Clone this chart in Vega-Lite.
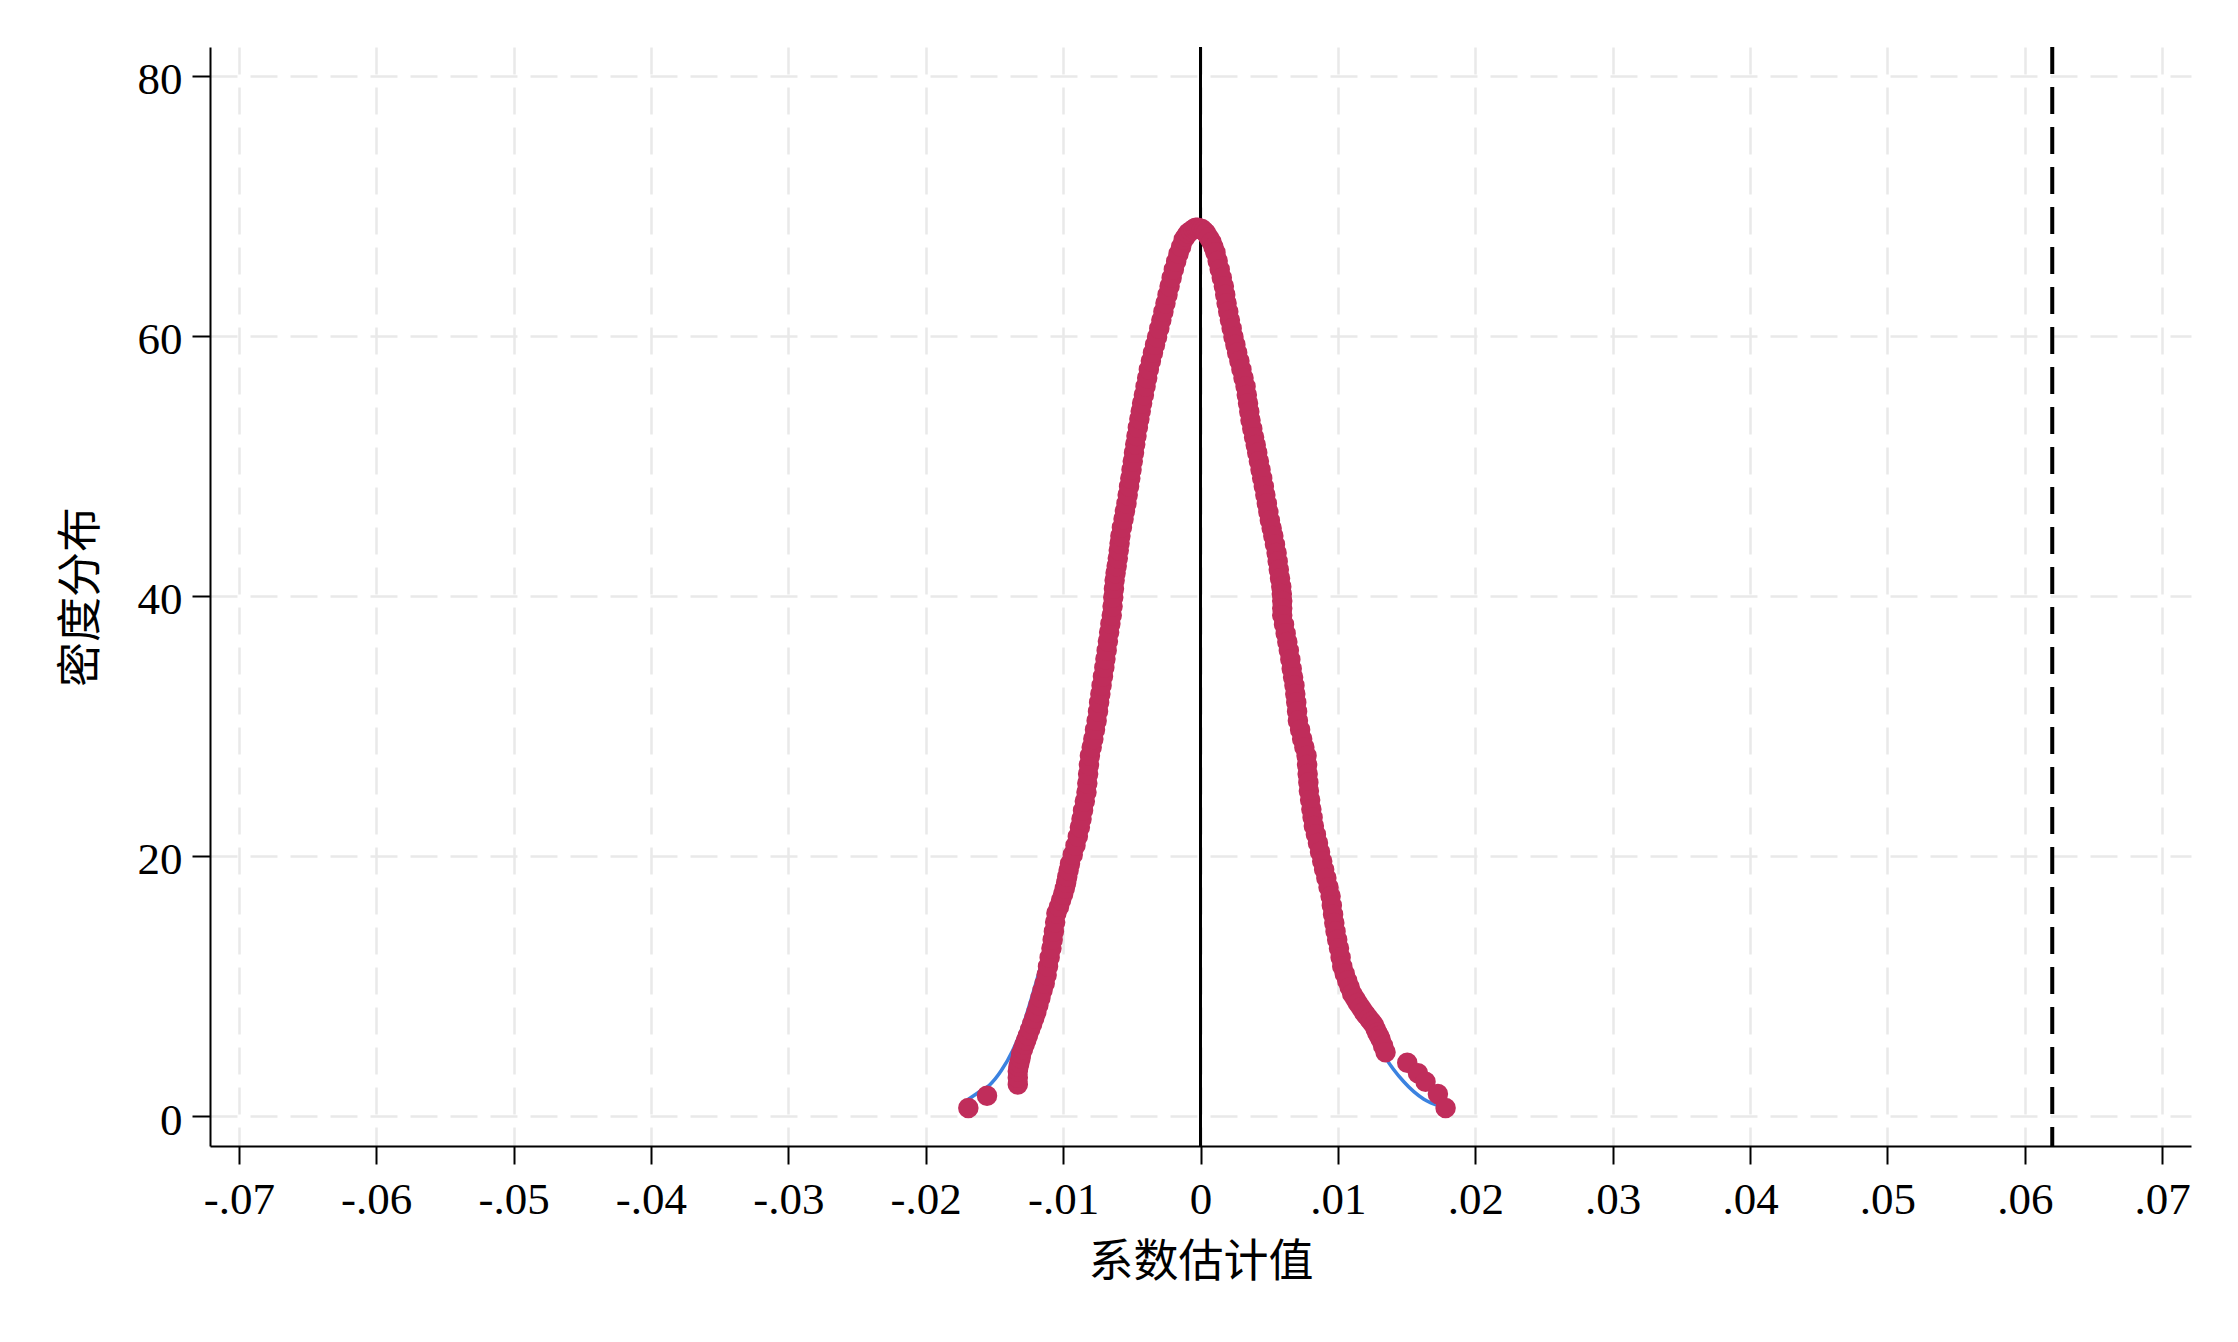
{
  "$schema": "https://vega.github.io/schema/vega-lite/v6.json",
  "width": 1981,
  "height": 1099,
  "autosize": "none",
  "padding": {"left": 210, "top": 47, "right": 47, "bottom": 196},
  "background": "white",
  "config": {
    "view": {"stroke": null},
    "font": "Liberation Serif",
    "axis": {
      "domainColor": "black", "domainWidth": 2,
      "tickColor": "black", "tickWidth": 2, "tickSize": 18,
      "labelFont": "Liberation Serif", "labelFontSize": 45, "labelColor": "black",
      "titleFont": "Noto Sans CJK SC", "titleFontSize": 45, "titleFontWeight": "normal", "titleColor": "black",
      "grid": true, "gridColor": "#e9e9e9", "gridWidth": 2.5, "gridDash": [27, 13]
    }
  },
  "datasets": {
    "pts": [
      {"b":-0.0169,"d":0.62},{"b":-0.01554,"d":1.56},{"b":-0.0133,"d":2.43},{"b":-0.0133,"d":2.95},{"b":-0.0133,"d":3.45},
      {"b":-0.01325,"d":3.8},{"b":-0.01318,"d":4.1},{"b":-0.0131,"d":4.45},{"b":-0.01305,"d":4.8},{"b":-0.01292,"d":5.15},
      {"b":-0.0128,"d":5.5},{"b":-0.01268,"d":5.85},{"b":-0.01256,"d":6.2},{"b":-0.0124,"d":6.65},{"b":-0.01225,"d":7.1},
      {"b":-0.0121,"d":7.55},{"b":-0.01195,"d":8.0},{"b":-0.0118,"d":8.55},{"b":-0.01165,"d":9.1},{"b":-0.0115,"d":9.65},
      {"b":-0.01134,"d":10.2},{"b":-0.0112,"d":10.85},{"b":-0.0111,"d":11.5},{"b":-0.01098,"d":12.2},{"b":-0.01085,"d":12.9},
      {"b":-0.01076,"d":13.55},{"b":-0.01067,"d":14.2},{"b":-0.01058,"d":14.9},{"b":-0.01049,"d":15.6},{"b":-0.0103,"d":16.1},
      {"b":-0.01015,"d":16.6},{"b":-0.01,"d":17.05},{"b":-0.00988,"d":17.5},{"b":-0.00978,"d":17.95},{"b":-0.0097,"d":18.4},
      {"b":-0.0096,"d":18.9},{"b":-0.0095,"d":19.4},{"b":-0.0093,"d":20.1},{"b":-0.0091,"d":20.8},{"b":-0.00893,"d":21.5},
      {"b":-0.00878,"d":22.2},{"b":-0.00866,"d":22.85},{"b":-0.00855,"d":23.5},{"b":-0.00842,"d":24.2},{"b":-0.0083,"d":24.9},
      {"b":-0.00824,"d":25.6},{"b":-0.00818,"d":26.3},{"b":-0.00812,"d":27.0},{"b":-0.00805,"d":27.7},{"b":-0.00792,"d":28.35},
      {"b":-0.0078,"d":29.0},{"b":-0.00768,"d":29.7},{"b":-0.00756,"d":30.4},{"b":-0.00746,"d":31.1},{"b":-0.00738,"d":31.8},
      {"b":-0.00729,"d":32.45},{"b":-0.0072,"d":33.1},{"b":-0.0071,"d":33.8},{"b":-0.007,"d":34.5},{"b":-0.00692,"d":35.15},
      {"b":-0.00683,"d":35.8},{"b":-0.00674,"d":36.5},{"b":-0.00665,"d":37.2},{"b":-0.00656,"d":37.85},{"b":-0.00646,"d":38.5},
      {"b":-0.0064,"d":39.2},{"b":-0.00635,"d":39.9},{"b":-0.0063,"d":40.55},{"b":-0.00625,"d":41.2},{"b":-0.00618,"d":41.75},
      {"b":-0.0061,"d":42.3},{"b":-0.00602,"d":42.9},{"b":-0.00595,"d":43.5},{"b":-0.00589,"d":44.05},{"b":-0.00583,"d":44.6},
      {"b":-0.00572,"d":45.25},{"b":-0.0056,"d":45.9},{"b":-0.0055,"d":46.5},{"b":-0.00539,"d":47.1},{"b":-0.0053,"d":47.75},
      {"b":-0.0052,"d":48.4},{"b":-0.00511,"d":49.05},{"b":-0.00502,"d":49.7},{"b":-0.00493,"d":50.35},{"b":-0.00484,"d":51.0},
      {"b":-0.00475,"d":51.65},{"b":-0.00466,"d":52.3},{"b":-0.00456,"d":52.95},{"b":-0.00445,"d":53.6},{"b":-0.00435,"d":54.2},
      {"b":-0.00425,"d":54.8},{"b":-0.00412,"d":55.45},{"b":-0.004,"d":56.1},{"b":-0.00388,"d":56.75},{"b":-0.00376,"d":57.4},
      {"b":-0.00361,"d":58.05},{"b":-0.00346,"d":58.7},{"b":-0.00331,"d":59.3},{"b":-0.00316,"d":59.9},{"b":-0.003,"d":60.55},
      {"b":-0.00285,"d":61.2},{"b":-0.0027,"d":61.85},{"b":-0.00255,"d":62.5},{"b":-0.0024,"d":63.15},{"b":-0.00225,"d":63.8},
      {"b":-0.0021,"d":64.45},{"b":-0.00194,"d":65.1},{"b":-0.00177,"d":65.7},{"b":-0.0016,"d":66.3},{"b":-0.00141,"d":66.85},
      {"b":-0.00122,"d":67.4},{"b":-0.00106,"d":67.65},{"b":-0.0009,"d":67.9},{"b":-0.0007,"d":68.05},{"b":-0.0005,"d":68.2},
      {"b":-0.00035,"d":68.3},{"b":-0.0002,"d":68.3},{"b":-0.00005,"d":68.25},{"b":0.0001,"d":68.2},{"b":0.00025,"d":68.05},
      {"b":0.0004,"d":67.9},{"b":0.0006,"d":67.55},{"b":0.0008,"d":67.2},{"b":0.00095,"d":66.8},{"b":0.00109,"d":66.4},
      {"b":0.00125,"d":65.75},{"b":0.0014,"d":65.1},{"b":0.00155,"d":64.45},{"b":0.0017,"d":63.8},{"b":0.0018,"d":63.15},
      {"b":0.0019,"d":62.5},{"b":0.00202,"d":61.85},{"b":0.00214,"d":61.2},{"b":0.00227,"d":60.55},{"b":0.0024,"d":59.9},
      {"b":0.00254,"d":59.3},{"b":0.00267,"d":58.7},{"b":0.00283,"d":58.05},{"b":0.00298,"d":57.4},{"b":0.00313,"d":56.75},
      {"b":0.00328,"d":56.1},{"b":0.00337,"d":55.45},{"b":0.00346,"d":54.8},{"b":0.00355,"d":54.15},{"b":0.00364,"d":53.5},
      {"b":0.00377,"d":52.85},{"b":0.0039,"d":52.2},{"b":0.00402,"d":51.6},{"b":0.00413,"d":51.0},{"b":0.00425,"d":50.35},
      {"b":0.00437,"d":49.7},{"b":0.00449,"d":49.05},{"b":0.00461,"d":48.4},{"b":0.00472,"d":47.75},{"b":0.00483,"d":47.1},
      {"b":0.00494,"d":46.45},{"b":0.00505,"d":45.8},{"b":0.00518,"d":45.2},{"b":0.0053,"d":44.6},{"b":0.00542,"d":43.95},
      {"b":0.00554,"d":43.3},{"b":0.00562,"d":42.65},{"b":0.0057,"d":42.0},{"b":0.00579,"d":41.35},{"b":0.00588,"d":40.7},
      {"b":0.00592,"d":40.15},{"b":0.00595,"d":39.6},{"b":0.00595,"d":39.05},{"b":0.00595,"d":38.5},{"b":0.00608,"d":37.8},
      {"b":0.0062,"d":37.1},{"b":0.00632,"d":36.45},{"b":0.00643,"d":35.8},{"b":0.00654,"d":35.1},{"b":0.00664,"d":34.4},
      {"b":0.00674,"d":33.75},{"b":0.00684,"d":33.1},{"b":0.0069,"d":32.45},{"b":0.00697,"d":31.8},{"b":0.00703,"d":31.1},
      {"b":0.00709,"d":30.4},{"b":0.00725,"d":29.7},{"b":0.0074,"d":29.0},{"b":0.00756,"d":28.35},{"b":0.00772,"d":27.7},
      {"b":0.00776,"d":27.0},{"b":0.0078,"d":26.3},{"b":0.00785,"d":25.65},{"b":0.00789,"d":25.0},{"b":0.00798,"d":24.3},
      {"b":0.00807,"d":23.6},{"b":0.00816,"d":22.95},{"b":0.00825,"d":22.3},{"b":0.0084,"d":21.65},{"b":0.00855,"d":21.0},
      {"b":0.0087,"d":20.3},{"b":0.00886,"d":19.6},{"b":0.009,"d":18.95},{"b":0.00916,"d":18.3},{"b":0.00932,"d":17.6},
      {"b":0.00947,"d":16.9},{"b":0.00956,"d":16.2},{"b":0.00965,"d":15.5},{"b":0.00974,"d":14.85},{"b":0.00983,"d":14.2},
      {"b":0.00995,"d":13.55},{"b":0.01008,"d":12.9},{"b":0.0102,"d":12.2},{"b":0.01032,"d":11.5},{"b":0.0105,"d":10.95},
      {"b":0.01068,"d":10.4},{"b":0.01086,"d":9.9},{"b":0.01104,"d":9.4},{"b":0.01125,"d":9.05},{"b":0.01145,"d":8.7},
      {"b":0.01167,"d":8.35},{"b":0.01189,"d":8.0},{"b":0.01207,"d":7.75},{"b":0.01225,"d":7.5},{"b":0.01244,"d":7.25},
      {"b":0.01262,"d":7.0},{"b":0.01275,"d":6.7},{"b":0.01287,"d":6.4},{"b":0.013,"d":6.15},{"b":0.01311,"d":5.9},
      {"b":0.01329,"d":5.4},{"b":0.01347,"d":4.9},{"b":0.01505,"d":4.1},{"b":0.01583,"d":3.3},{"b":0.01638,"d":2.64},
      {"b":0.01728,"d":1.7},{"b":0.01784,"d":0.62}
    ],
    "kd": [
      {"b":-0.0169,"d":1.3},{"b":-0.0162,"d":1.8},{"b":-0.01537,"d":2.37},{"b":-0.0145,"d":3.5},{"b":-0.01366,"d":5.07},
      {"b":-0.013,"d":6.7},{"b":-0.01232,"d":9.0},{"b":-0.0115,"d":12.0},{"b":-0.0105,"d":16.0},{"b":-0.0095,"d":20.5},
      {"b":-0.0085,"d":25.5},{"b":-0.0075,"d":31.0},{"b":-0.0065,"d":37.5},{"b":-0.0055,"d":45.5},{"b":-0.0045,"d":53.5},
      {"b":-0.0035,"d":59.0},{"b":-0.0025,"d":63.3},{"b":-0.0015,"d":66.5},{"b":-0.0005,"d":68.0},{"b":0.0,"d":68.2},
      {"b":0.0005,"d":67.8},{"b":0.0015,"d":65.0},{"b":0.0025,"d":60.0},{"b":0.0035,"d":54.5},{"b":0.0045,"d":49.0},
      {"b":0.0055,"d":43.0},{"b":0.0065,"d":36.0},{"b":0.0075,"d":28.5},{"b":0.0085,"d":21.0},{"b":0.0095,"d":16.0},
      {"b":0.0105,"d":11.5},{"b":0.0112,"d":10.0},{"b":0.0125,"d":6.5},{"b":0.01347,"d":4.5},{"b":0.0148,"d":2.64},
      {"b":0.01626,"d":1.3},{"b":0.01748,"d":0.75},{"b":0.0178,"d":0.65}
    ]
  },
  "encoding": {
    "x": {
      "field": "b", "type": "quantitative",
      "scale": {"domain": [-0.0721, 0.0721], "nice": false, "zero": false},
      "axis": {
        "values": [-0.07,-0.06,-0.05,-0.04,-0.03,-0.02,-0.01,0,0.01,0.02,0.03,0.04,0.05,0.06,0.07],
        "labelExpr": "datum.value == 0 ? '0' : (datum.value < 0 ? '-' : '') + replace(format(abs(datum.value), '.2f'), '0.', '.')",
        "title": "系数估计值",
        "labelPadding": 13,
        "labelFlush": false,
        "labelOverlap": false,
        "titleY": 130,
        "titleBaseline": "alphabetic"
      }
    }
  },
  "layer": [
    {
      "data": {"values": [{"b": 0}]},
      "mark": {"type": "rule", "color": "black", "strokeWidth": 3},
      "encoding": {}
    },
    {
      "data": {"values": [{"b": 0.062}]},
      "mark": {"type": "rule", "color": "black", "strokeWidth": 4, "strokeDash": [27, 13]},
      "encoding": {}
    },
    {
      "data": {"name": "kd"},
      "mark": {"type": "line", "color": "#3b82e0", "strokeWidth": 3.5, "interpolate": "monotone"},
      "encoding": {
        "y": {
          "field": "d", "type": "quantitative",
          "scale": {"domain": [-2.3, 82.2], "nice": false, "zero": false},
          "axis": {"values": [0,20,40,60,80], "title": "密度分布", "labelPadding": 10, "labelOffset": 4, "titleX": -115, "titleBaseline": "alphabetic"}
        }
      }
    },
    {
      "data": {"name": "pts"},
      "mark": {"type": "circle", "color": "#c02d5b", "opacity": 1, "size": 420},
      "encoding": {
        "y": {
          "field": "d", "type": "quantitative",
          "scale": {"domain": [-2.3, 82.2], "nice": false, "zero": false},
          "axis": {"values": [0,20,40,60,80], "title": "密度分布", "labelPadding": 10, "labelOffset": 4, "titleX": -115, "titleBaseline": "alphabetic"}
        }
      }
    }
  ]
}
